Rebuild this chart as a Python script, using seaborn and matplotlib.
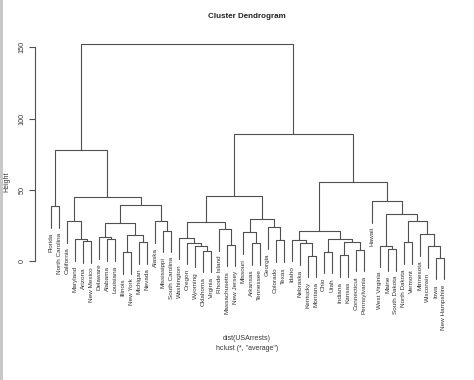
import matplotlib
matplotlib.use("Agg")
import matplotlib.pyplot as plt
from matplotlib.patches import Rectangle
import seaborn as sns
import pandas as pd

# Leaf order as drawn
labels = ["Florida", "North Carolina", "California", "Maryland", "Arizona", "New Mexico",
          "Delaware", "Alabama", "Louisiana", "Illinois", "New York", "Michigan", "Nevada",
          "Alaska", "Mississippi", "South Carolina", "Washington", "Oregon", "Wyoming",
          "Oklahoma", "Virginia", "Rhode Island", "Massachusetts", "New Jersey", "Missouri",
          "Arkansas", "Tennessee", "Georgia", "Colorado", "Texas", "Idaho", "Nebraska",
          "Kentucky", "Montana", "Ohio", "Utah", "Indiana", "Kansas", "Connecticut",
          "Pennsylvania", "Hawaii", "West Virginia", "Maine", "South Dakota", "North Dakota",
          "Vermont", "Minnesota", "Wisconsin", "Iowa", "New Hampshire"]

# Merges: children are leaf names or indices (0-based) of earlier merges
merge_a = ["Iowa", "Kentucky", "Indiana", "Illinois", "Ohio", "Oklahoma", "Connecticut",
           "Maine", "Wisconsin", "Wyoming", "West Virginia", "Massachusetts", "Nebraska",
           "Arkansas", "Oregon", "North Dakota", "Michigan", 2, "Arizona", "Colorado",
           "Idaho", 4, "Alabama", "Maryland", "Washington", "Delaware", 3, "Minnesota",
           "Missouri", 20, "Mississippi", "Rhode Island", "Georgia", 25, 24, 15,
           "California", "Alaska", 28, 10, "Florida", 33, "Hawaii", 36, 34, 29, 40, 44, 46]
merge_b = ["New Hampshire", "Montana", "Kansas", "New York", "Utah", "Virginia", "Pennsylvania",
           "South Dakota", 0, 5, 7, "New Jersey", 1, "Tennessee", 9, "Vermont", "Nevada", 6,
           "New Mexico", "Texas", 12, 17, "Louisiana", 18, 14, 22, 16, 8, 13, 21,
           "South Carolina", 11, 19, 26, 31, 27, 23, 30, 32, 35, "North Carolina", 37, 39,
           41, 38, 42, 43, 45, 47]
merge_h = [2.29, 3.83, 3.93, 6.24, 6.64, 7.36, 8.0, 8.54, 10.2, 10.7, 10.8, 11.46, 12.4,
           12.6, 12.9, 13.0, 13.3, 13.4, 13.9, 14.5, 15.0, 15.1, 15.45, 15.45, 16.4, 16.9,
           18.4, 19.0, 20.2, 20.9, 21.2, 22.6, 24.0, 26.5, 27.2, 27.8, 28.0, 28.1, 29.4,
           33.1, 38.5, 39.4, 42.2, 44.6, 45.3, 55.4, 77.6, 89.2, 152.3]

hang = 0.1 * max(merge_h)
leaf_x = {name: i + 1 for i, name in enumerate(labels)}
leaf_end = {}
node_x = []
rows = []
seg = 0
for k, (a, b, h) in enumerate(zip(merge_a, merge_b, merge_h)):
    xs = []
    for c in (a, b):
        if isinstance(c, str):
            cx, cy = leaf_x[c], h - hang
            leaf_end[c] = cy
        else:
            cx, cy = node_x[c], merge_h[c]
        xs.append(cx)
        rows += [(cx, cy, seg), (cx, h, seg)]
        seg += 1
    rows += [(xs[0], h, seg), (xs[1], h, seg)]
    seg += 1
    node_x.append((xs[0] + xs[1]) / 2)

df = pd.DataFrame(rows, columns=["x", "y", "seg"])

sns.set_theme(style="white")
plt.rcParams["font.family"] = ["Liberation Sans", "DejaVu Sans"]

fig = plt.figure(figsize=(4.74, 3.8), dpi=100)
fig.patch.set_facecolor("white")
ax = fig.add_axes([35 / 474, 1 - 283.8 / 380, 425 / 474, (283.8 - 35.9) / 380])
lc = "#505050"
sns.lineplot(data=df, x="x", y="y", units="seg", estimator=None, sort=False,
             color=lc, linewidth=0.8, ax=ax, legend=False)
ax.set_xlim(-1, 52)
ax.set_ylim(-16, 158)
ax.set_facecolor("white")
for s in ["top", "right", "bottom"]:
    ax.spines[s].set_visible(False)
ax.spines["left"].set_bounds(0, 150)
ax.spines["left"].set_color(lc)
ax.spines["left"].set_linewidth(0.8)
ax.set_xticks([])
ax.set_yticks([0, 50, 100, 150])
ax.set_yticklabels(["0", "50", "100", "150"], rotation=90, va="center", fontsize=5.2,
                   color="#333333")
ax.tick_params(axis="y", left=True, length=4, width=0.8, color=lc, pad=3)
ax.set_xlabel("")
ax.set_ylabel("")

for name in labels:
    ax.annotate(name, (leaf_x[name], leaf_end[name]), xytext=(0, -3.5),
                textcoords="offset points", rotation=90, ha="center", va="top",
                fontsize=4.6, color="#333333", annotation_clip=False)

fig.text(247 / 474, 1 - 16 / 380, "Cluster Dendrogram", ha="center", va="center",
         fontsize=5.8, fontweight="bold", color="#222222")
fig.text(7 / 474, 1 - 182 / 380, "Height", ha="center", va="center", rotation=90,
         fontsize=5, color="#333333")
fig.text(247 / 474, 1 - 338 / 380, "dist(USArrests)", ha="center", va="center",
         fontsize=5, color="#333333")
fig.text(247 / 474, 1 - 348 / 380, 'hclust (*, "average")', ha="center", va="center",
         fontsize=5, color="#333333")
fig.patches.append(Rectangle((0, 0), 3 / 474, 1, transform=fig.transFigure,
                             facecolor="#c8c8c8", edgecolor="none", zorder=-1))

fig.savefig("out.png", dpi=100)
